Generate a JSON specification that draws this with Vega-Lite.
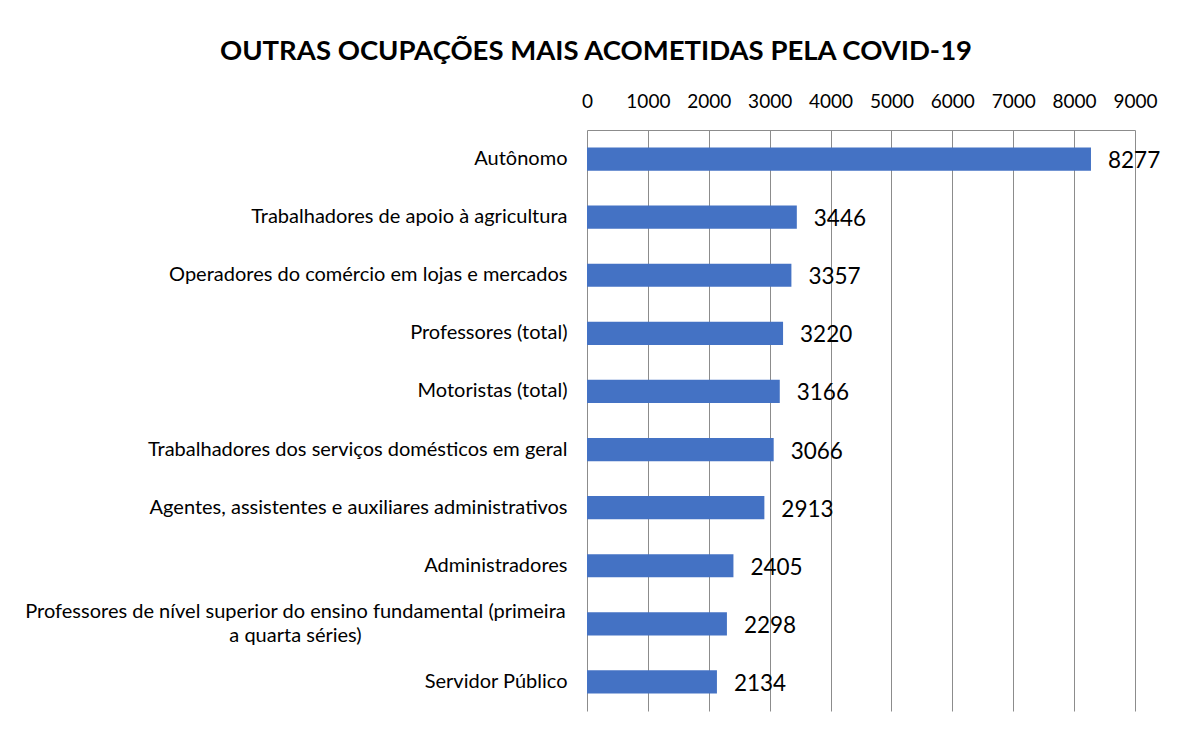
{
  "$schema": "https://vega.github.io/schema/vega-lite/v6.json",
  "autosize": {"type": "none"},
  "padding": {"left": 587, "top": 130, "right": 45, "bottom": 22},
  "width": 548,
  "height": 581,
  "background": "white",
  "title": {
    "text": "OUTRAS OCUPAÇÕES MAIS ACOMETIDAS PELA COVID-19",
    "font": "Lato",
    "fontSize": 27.5,
    "fontWeight": "bold",
    "color": "#000000",
    "anchor": "middle",
    "dx": -265,
    "offset": 27
  },
  "data": {
    "values": [
      {"ocupacao": "Autônomo", "casos": 8277},
      {"ocupacao": "Trabalhadores de apoio à agricultura", "casos": 3446},
      {"ocupacao": "Operadores do comércio em lojas e mercados", "casos": 3357},
      {"ocupacao": "Professores (total)", "casos": 3220},
      {"ocupacao": "Motoristas (total)", "casos": 3166},
      {"ocupacao": "Trabalhadores dos serviços domésticos em geral", "casos": 3066},
      {"ocupacao": "Agentes, assistentes e auxiliares administrativos", "casos": 2913},
      {"ocupacao": "Administradores", "casos": 2405},
      {"ocupacao": "Professores de nível superior do ensino fundamental (primeira a quarta séries)", "casos": 2298},
      {"ocupacao": "Servidor Público", "casos": 2134}
    ]
  },
  "encoding": {
    "y": {
      "field": "ocupacao",
      "type": "nominal",
      "sort": null,
      "scale": {"paddingInner": 0.6, "paddingOuter": 0.3},
      "axis": {
        "title": null,
        "domain": false,
        "ticks": false,
        "labelFont": "Lato",
        "labelFontSize": 20,
        "labelColor": "#000000",
        "labelLimit": 700,
        "labelLineHeight": 24,
        "labelPadding": {"condition": {"test": "indexof(datum.value, 'primeira') >= 0", "value": 292}, "value": 20},
        "labelAlign": {"condition": {"test": "indexof(datum.value, 'primeira') >= 0", "value": "center"}, "value": "right"},
        "labelOffset": {"condition": {"test": "indexof(datum.value, 'primeira') >= 0", "value": -12}, "value": 0},
        "labelExpr": "indexof(datum.label, 'primeira') >= 0 ? ['Professores de nível superior do ensino fundamental (primeira', 'a quarta séries)'] : datum.label"
      }
    },
    "x": {
      "field": "casos",
      "type": "quantitative",
      "scale": {"domain": [0, 9000], "nice": false},
      "axis": {
        "orient": "top",
        "title": null,
        "values": [0, 1000, 2000, 3000, 4000, 5000, 6000, 7000, 8000, 9000],
        "format": "d",
        "domain": true,
        "domainColor": "#8c8c8c",
        "domainWidth": 1,
        "ticks": false,
        "grid": true,
        "gridColor": "#8c8c8c",
        "gridWidth": 1,
        "gridOpacity": 1,
        "labelFont": "Lato",
        "labelFontSize": 19,
        "labelColor": "#000000",
        "labelPadding": 19,
        "labelFlush": false,
        "labelOverlap": false
      }
    }
  },
  "layer": [
    {"mark": {"type": "bar", "color": "#4472C4"}},
    {
      "mark": {"type": "text", "align": "left", "baseline": "middle", "dx": 17, "dy": 2, "font": "Lato", "fontSize": 22.5, "color": "#000000"},
      "encoding": {"text": {"field": "casos", "type": "quantitative", "format": "d"}}
    }
  ],
  "config": {"view": {"stroke": null}}
}
